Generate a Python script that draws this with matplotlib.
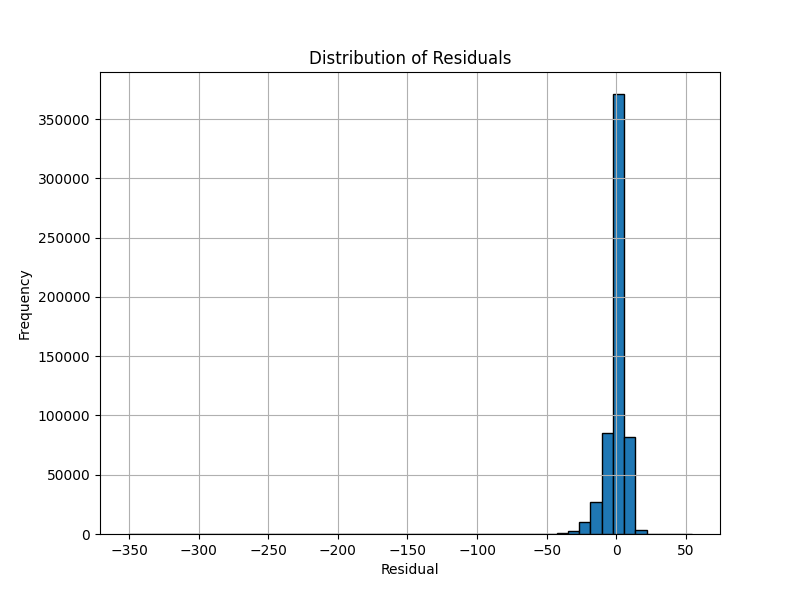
import numpy as np
import matplotlib

matplotlib.use("Agg")
import matplotlib.pyplot as plt

# histogram of residuals: 50 bins between the min and max residual
residual_min = -350.6
residual_max = 54.2
counts = [
    1, 0, 0, 0, 0, 0, 0, 0, 0, 0,
    0, 0, 0, 0, 0, 0, 0, 0, 0, 0,
    0, 0, 0, 0, 0, 0, 0, 0, 0, 0,
    2, 3, 5, 10, 20, 40, 90, 250, 800, 2500,
    9900, 27000, 85200, 371100, 81800, 3400, 300, 30, 5, 1,
]

edges = np.linspace(residual_min, residual_max, len(counts) + 1)
centers = (edges[:-1] + edges[1:]) / 2

fig, ax = plt.subplots(figsize=(8, 6), dpi=100)
ax.hist(centers, bins=edges, weights=counts, edgecolor="black")
ax.set_title("Distribution of Residuals")
ax.set_xlabel("Residual")
ax.set_ylabel("Frequency")
ax.grid(True)
fig.savefig("out.png", dpi=100)
